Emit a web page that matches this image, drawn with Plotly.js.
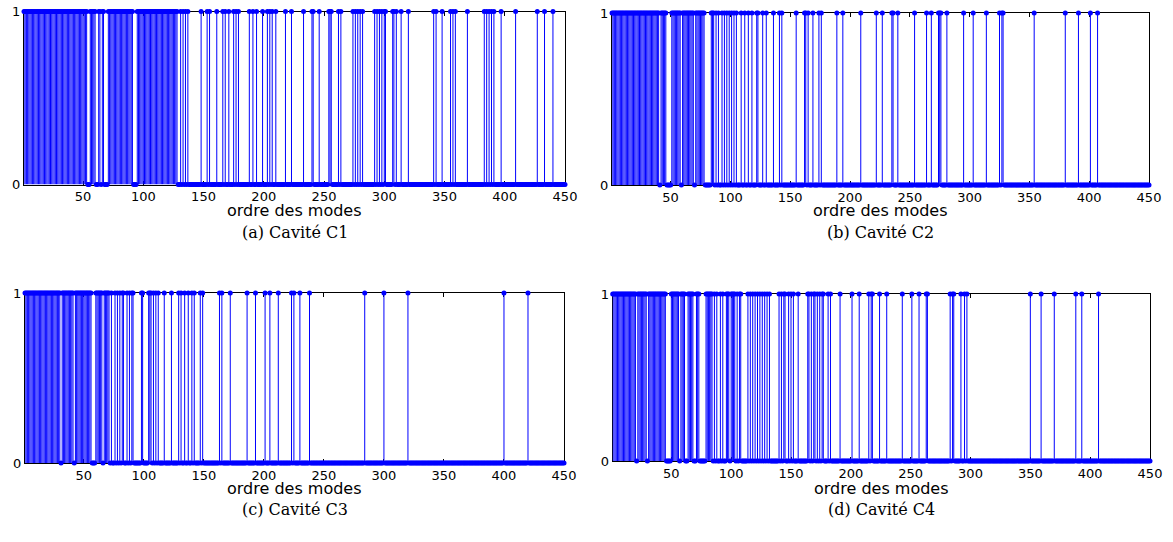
<!DOCTYPE html>
<html>
<head>
<meta charset="utf-8">
<script src="https://cdn.plot.ly/plotly-3.0.1.min.js"></script>
<style>html,body{margin:0;padding:0;background:#fff;}#chart{width:1173px;height:542px;}</style>
</head>
<body>
<div id="chart"></div>
<script>
// Mode orders go from 1 to 450; each mode is either selected (1) or not (0).
const modeCount = 450;
const xTickVals = [50, 100, 150, 200, 250, 300, 350, 400, 450];
const yTickVals = [0, 1];
const xLabel = 'ordre des modes';
const captions = ['(a) Cavité C1', '(b) Cavité C2', '(c) Cavité C3', '(d) Cavité C4'];

// Mode orders whose value is 1 (all others are 0)
const onesC1 = [1,2,3,4,5,6,7,8,9,10,11,12,13,14,15,16,17,18,19,20,21,22,23,24,25,26,27,28,29,30,31,32,33,34,35,36,37,38,39,40,41,42,43,44,45,46,47,48,49,50,51,52,53,
  56,57,58,59,60,63,64,66,67,
  71,72,73,74,75,76,77,78,79,80,81,82,83,84,85,86,87,88,89,90,91,
  95,96,97,98,99,100,101,102,103,104,105,106,107,108,109,110,111,112,113,114,115,116,117,118,119,120,121,122,123,124,125,126,127,128,
  131,133,135,137,148,153,155,161,166,168,171,175,177,179,188,191,194,199,203,205,207,210,218,223,233,240,241,246,254,255,256,262,264,
  274,276,278,280,282,292,294,296,298,300,301,307,308,310,314,320,341,343,348,355,357,359,369,383,385,387,389,391,397,409,427,433,440];

const onesC2 = [1,2,3,4,5,6,7,8,9,10,11,12,13,14,15,16,17,18,19,20,21,22,23,24,25,26,27,28,29,30,31,32,33,34,35,36,37,38,39,40,
  42,43,44,45,46,51,52,53,54,55,56,57,58,60,61,62,63,64,65,66,67,68,69,71,72,73,74,75,76,77,78,
  84,85,86,88,90,93,95,97,99,101,103,105,109,112,115,118,122,123,127,130,136,141,143,155,162,163,165,169,174,176,
  189,194,209,222,227,235,236,240,254,264,268,274,275,276,281,295,303,314,325,327,328,354,380,391,401,407];

const onesC3 = [1,2,3,4,5,6,7,8,9,10,11,12,13,14,15,16,17,18,19,20,21,22,23,24,25,26,27,28,29,30,
  32,33,34,35,36,37,38,39,40,41,43,44,45,46,47,48,49,50,51,52,53,54,55,56,60,61,62,63,64,65,67,68,69,70,71,73,
  76,78,80,82,83,86,88,90,91,98,99,104,105,106,108,110,112,117,123,129,131,134,137,140,142,147,149,163,165,172,
  186,193,201,205,212,223,225,230,238,284,300,320,400,420];

const onesC4 = [1,2,3,4,5,6,7,8,9,10,11,12,13,14,15,16,17,18,19,20,22,23,24,25,26,27,28,29,
  31,32,33,34,35,36,37,38,39,40,41,42,43,44,45,50,51,52,53,54,55,56,58,59,60,61,64,65,66,67,68,71,72,73,
  79,80,81,82,83,84,86,88,91,93,96,97,98,100,101,102,103,105,107,108,114,116,118,120,122,124,126,128,130,132,
  140,142,144,145,148,150,152,156,164,165,167,169,170,172,174,176,177,181,183,191,201,207,215,217,218,224,230,
  243,251,257,263,264,283,285,286,292,295,297,350,359,370,388,393,407];

const panels = [onesC1, onesC2, onesC3, onesC4];

const blue = '#0000ff';
const traces = [];
panels.forEach((ones, i) => {
  const sfx = i === 0 ? '' : String(i + 1);
  const set = new Set(ones);
  const mx = [], my = [], sx = [], sy = [];
  for (let m = 1; m <= modeCount; m++) {
    const v = set.has(m) ? 1 : 0;
    mx.push(m); my.push(v);
    if (v) { sx.push(m, m, null); sy.push(0, v, null); }
  }
  traces.push({x: sx, y: sy, type: 'scatter', mode: 'lines', xaxis: 'x' + sfx, yaxis: 'y' + sfx,
    line: {color: blue, width: 1}, hoverinfo: 'skip', showlegend: false});
  traces.push({x: mx, y: my, type: 'scatter', mode: 'markers', xaxis: 'x' + sfx, yaxis: 'y' + sfx,
    marker: {color: blue, size: 5}, cliponaxis: false, showlegend: false});
});

const W = 1173, H = 542;
const boxes = [
  {l: 24, r: 565, t: 11.5, b: 184.5, lab: 211, cap: 232},
  {l: 612, r: 1149, t: 13, b: 185, lab: 211, cap: 232},
  {l: 25, r: 564, t: 293, b: 463, lab: 488, cap: 509},
  {l: 612.7, r: 1150, t: 294, b: 461, lab: 488, cap: 509}
];
const tickFont = {family: 'DejaVu Sans, sans-serif', size: 13, color: '#000'};
const labelFont = {family: 'DejaVu Sans, sans-serif', size: 16, color: '#000'};
const layout = {
  width: W, height: H,
  margin: {l: 0, r: 0, t: 0, b: 0},
  paper_bgcolor: '#fff', plot_bgcolor: '#fff',
  showlegend: false,
  annotations: []
};
boxes.forEach((bx, i) => {
  const sfx = i === 0 ? '' : String(i + 1);
  layout['xaxis' + sfx] = {
    domain: [bx.l / W, bx.r / W], anchor: 'y' + sfx, range: [1, modeCount],
    tickvals: xTickVals, ticks: 'inside', ticklen: 4, tickcolor: '#000', tickwidth: 1,
    showline: true, linecolor: '#000', linewidth: 1, mirror: 'ticks', showgrid: false, zeroline: false,
    layer: 'below traces', tickfont: tickFont
  };
  layout['yaxis' + sfx] = {
    domain: [1 - bx.b / H, 1 - bx.t / H], anchor: 'x' + sfx, range: [0, 1],
    tickvals: yTickVals, ticks: 'inside', ticklen: 4, tickcolor: '#000',
    showline: true, linecolor: '#000', linewidth: 1, mirror: 'ticks', showgrid: false, zeroline: false,
    layer: 'below traces', tickfont: tickFont
  };
  // x-axis label placed under each panel
  layout.annotations.push({
    text: xLabel, xref: 'paper', yref: 'paper',
    x: (bx.l + bx.r) / 2 / W, y: 1 - bx.lab / H,
    xanchor: 'center', yanchor: 'middle', showarrow: false, font: labelFont
  });
  layout.annotations.push({
    text: captions[i], xref: 'paper', yref: 'paper',
    x: (bx.l + bx.r) / 2 / W, y: 1 - bx.cap / H,
    xanchor: 'center', yanchor: 'middle', showarrow: false,
    font: {family: 'DejaVu Serif, serif', size: 16, color: '#000'}
  });
});

Plotly.newPlot('chart', traces, layout, {staticPlot: true});
</script>
</body>
</html>
